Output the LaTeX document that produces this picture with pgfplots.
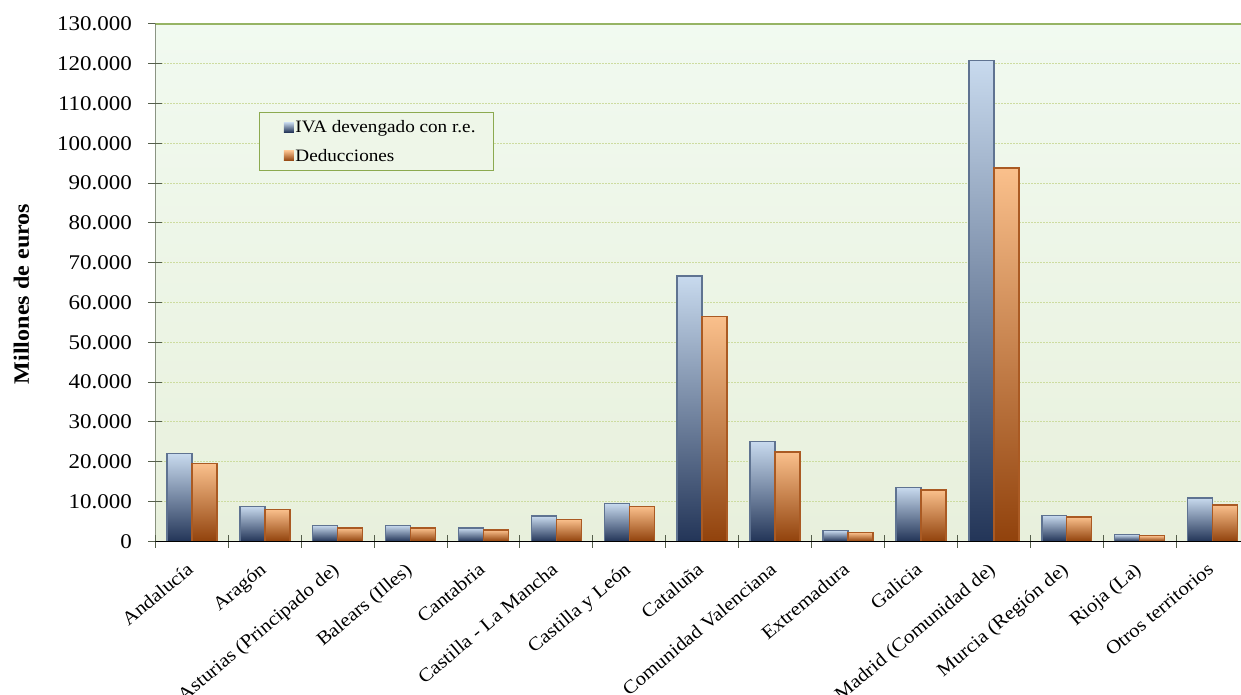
\documentclass[border=0pt]{standalone}
\usepackage{fontspec}
\setmainfont{Liberation Serif}[FakeStretch=1.1]
\usepackage{pgfplots}
\pgfplotsset{compat=1.18}

\definecolor{bgtop}{RGB}{241,250,240}
\definecolor{bgbot}{RGB}{232,240,220}
\definecolor{gridc}{RGB}{205,220,160}
\definecolor{topline}{RGB}{150,180,100}
\definecolor{leftline}{RGB}{85,95,75}
\definecolor{blueT}{RGB}{200,218,238}
\definecolor{blueM}{RGB}{160,182,210}
\definecolor{blueB}{RGB}{35,53,88}
\definecolor{blueE}{RGB}{95,115,145}
\definecolor{orT}{RGB}{250,192,140}
\definecolor{orM}{RGB}{238,140,55}
\definecolor{orB}{RGB}{145,66,12}
\definecolor{orE}{RGB}{170,90,35}
\definecolor{legfill}{RGB}{238,246,232}
\definecolor{legdraw}{RGB}{140,170,80}

\pgfplotsset{
  bb/.style={ybar, bar width=25bp, bar shift=-12.5bp, top color=blueT, middle color=blueM, bottom color=blueB, draw=blueE, line width=1.5bp},
  ob/.style={ybar, bar width=25bp, bar shift=12.5bp, top color=orT, middle color=orM, bottom color=orB, draw=orE, line width=1.5bp},
}

\begin{document}
\begin{tikzpicture}
\begin{axis}[
  scale only axis,
  width=1094bp, height=517.5bp,
  xmin=-0.5, xmax=14.5, ymin=0, ymax=130000,
  ybar=0pt, bar width=25bp,
  axis line style={draw=none},
  axis background/.style={shade, top color=bgtop, bottom color=bgbot},
  ymajorgrids,
  major grid style={draw=gridc, line width=1bp, dash pattern=on 2bp off 1bp},
  tick pos=left,
  xtick={0,...,14},
  xticklabels={Andalucía, Aragón, Asturias (Principado de), Balears (Illes), Cantabria, Castilla - La Mancha, Castilla y León, Cataluña, Comunidad Valenciana, Extremadura, Galicia, Madrid (Comunidad de), Murcia (Región de), Rioja (La), Otros territorios},
  minor xtick={-0.5,0.5,...,14.5},
  major x tick style={draw=none},
  minor x tick style={draw=leftline, line width=1bp},
  ytick={0,10000,...,130000},
  y tick style={draw=leftline, line width=1bp},
  tick align=center,
  major tick length=14bp,
  minor tick length=13bp,
  scaled y ticks=false,
  y tick label style={/pgf/number format/fixed, /pgf/number format/1000 sep={.}, /pgf/number format/assume math mode=true, font=\fontsize{21}{25}\selectfont, xshift=-13bp},
  xticklabel style={font=\fontsize{19}{23}\selectfont, rotate=40, anchor=north east, inner sep=1bp, xshift=-12bp, yshift=-5bp},
  every axis y label/.style={at={(axis description cs:-0.1225,0.478)}, rotate=90, anchor=center},
  ylabel={\bfseries Millones de euros},
  ylabel style={font=\fontsize{22}{26}\selectfont},
  legend style={at={(rel axis cs:0.0944,0.830)}, anchor=north west,
    draw=legdraw, fill=legfill, line width=1bp,
    inner xsep=16bp, inner ysep=6.5bp, row sep=12bp,
    font=\fontsize{17.5}{20}\selectfont,
    nodes={inner sep=1.5bp}},
  legend cell align=left,
  legend image code/.code={\path (-8bp,0bp); \path[#1, draw=none] (0bp,-5bp) rectangle (10bp,5bp);},
]
\addplot[bb] coordinates {(0,22000)};
\addplot[ob] coordinates {(0,19500)};
\addplot[bb,forget plot] coordinates {(1,8800)};
\addplot[ob,forget plot] coordinates {(1,8000)};
\addplot[bb,forget plot] coordinates {(2,4000)};
\addplot[ob,forget plot] coordinates {(2,3300)};
\addplot[bb,forget plot] coordinates {(3,4000)};
\addplot[ob,forget plot] coordinates {(3,3300)};
\addplot[bb,forget plot] coordinates {(4,3300)};
\addplot[ob,forget plot] coordinates {(4,2800)};
\addplot[bb,forget plot] coordinates {(5,6300)};
\addplot[ob,forget plot] coordinates {(5,5500)};
\addplot[bb,forget plot] coordinates {(6,9500)};
\addplot[ob,forget plot] coordinates {(6,8800)};
\addplot[bb,forget plot] coordinates {(7,66700)};
\addplot[ob,forget plot] coordinates {(7,56500)};
\addplot[bb,forget plot] coordinates {(8,25100)};
\addplot[ob,forget plot] coordinates {(8,22400)};
\addplot[bb,forget plot] coordinates {(9,2700)};
\addplot[ob,forget plot] coordinates {(9,2200)};
\addplot[bb,forget plot] coordinates {(10,13500)};
\addplot[ob,forget plot] coordinates {(10,12900)};
\addplot[bb,forget plot] coordinates {(11,120800)};
\addplot[ob,forget plot] coordinates {(11,93800)};
\addplot[bb,forget plot] coordinates {(12,6500)};
\addplot[ob,forget plot] coordinates {(12,6100)};
\addplot[bb,forget plot] coordinates {(13,1700)};
\addplot[ob,forget plot] coordinates {(13,1400)};
\addplot[bb,forget plot] coordinates {(14,10900)};
\addplot[ob,forget plot] coordinates {(14,9100)};
\legend{IVA devengado con r.e., Deducciones}
\draw[topline, line width=2bp] (rel axis cs:0,1) -- (rel axis cs:1,1);
\draw[leftline, line width=1.5bp] (rel axis cs:0,0) -- (rel axis cs:0,1);
\draw[black, line width=1.5bp] (rel axis cs:0,0) -- (rel axis cs:1,0);
\end{axis}
\pgfresetboundingbox
\path ([xshift=-155.5bp,yshift=-153.5bp]current axis.south west) rectangle ([xshift=-8bp,yshift=24bp]current axis.north east);
\end{tikzpicture}
\end{document}
